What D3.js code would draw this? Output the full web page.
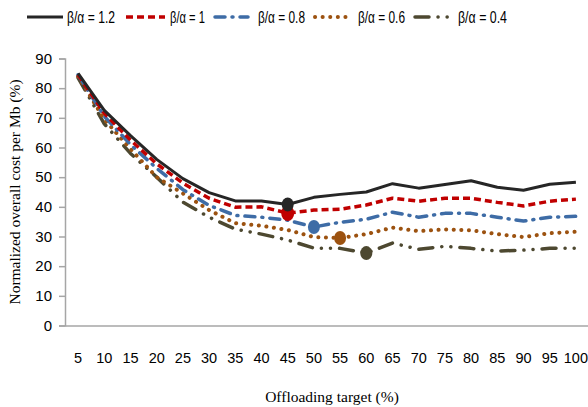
<!DOCTYPE html>
<html>
<head>
<meta charset="utf-8">
<script src="https://cdn.jsdelivr.net/npm/d3@7"></script>
<style>
  body { margin: 0; background: white; }
  text { font-family: "Liberation Sans Narrow", "Liberation Sans", sans-serif; }
  .serif { font-family: "Liberation Serif", "DejaVu Serif", serif; }
</style>
</head>
<body>
<div id="container"></div>
<script>
let w = 588;
let h = 407;

// data
let targets = [5,10,15,20,25,30,35,40,45,50,55,60,65,70,75,80,85,90,95,100];
let yTicks = [0,10,20,30,40,50,60,70,80,90];
let ratio12 = [85,72.5,64,56,49.5,44.8,42,42,40.8,43.2,44.2,45,47.8,46.3,47.5,48.8,46.6,45.6,47.6,48.3];
let ratio10 = [84.5,71.5,62.5,54.5,48,42.9,39.9,40,37.9,38.9,39.2,40.6,42.9,41.9,42.9,42.9,41.5,40.3,41.9,42.6];
let ratio08 = [84.5,70.5,61,53,45.8,40.5,37.1,36.5,35.5,33.2,34.8,35.8,38.2,36.5,37.8,37.8,36.5,35.2,36.5,36.8];
let ratio06 = [84,69.5,59.5,50,44.5,38.9,34.5,33.6,32.2,29.8,29.5,30.8,33,31.8,32.4,32.1,30.8,29.8,31.1,31.6];
let ratio04 = [83.5,68,58,50,41.6,36.5,32.5,30.8,28.8,26.1,26,24.4,27.8,25.7,26.7,26,25.1,25.4,26,26];
let seriesNames = ["β/α = 1.2","β/α = 1","β/α = 0.8","β/α = 0.6","β/α = 0.4"];
// optimum target of each series (marked with a dot)
let optimum = [45,45,50,55,60];

let styles = [
  {color:"#262626", width:3, dash:null, cap:"butt"},
  {color:"#c00000", width:3.5, dash:"7,4", cap:"butt"},
  {color:"#3e6ca6", width:3.5, dash:"10,7,1,7", cap:"round"},
  {color:"#9c5210", width:4, dash:"0.1,7.5", cap:"round"},
  {color:"#4d4830", width:3.5, dash:"14,9,0.1,9,0.1,9", cap:"round"}
];

let allSeries = [ratio12, ratio10, ratio08, ratio06, ratio04];

let viz = d3.select("#container").append("svg")
    .attr("width", w)
    .attr("height", h)
    .style("background-color", "white");

let xScale = d3.scaleBand().domain(targets).range([65, 589]);
let yScale = d3.scaleLinear().domain([0, 90]).range([325.5, 58.5]);

// y axis
let yAxis = d3.axisLeft(yScale).tickValues(yTicks).tickSize(6).tickPadding(7);
let yAxisGroup = viz.append("g")
    .attr("transform", "translate(65,0)")
    .call(yAxis);
yAxisGroup.selectAll("path").attr("stroke", "#a6a6a6").attr("stroke-width", 1.5);
yAxisGroup.selectAll("line").attr("stroke", "#a6a6a6").attr("stroke-width", 1.5);
yAxisGroup.selectAll("text").attr("font-size", 15).attr("fill", "#000")
    .style("font-family", "'Liberation Sans Narrow', 'Liberation Sans', sans-serif");

// x axis
let xAxis = d3.axisBottom(xScale).tickSize(0).tickPadding(27);
let xAxisGroup = viz.append("g")
    .attr("transform", "translate(0,325.5)")
    .call(xAxis);
xAxisGroup.selectAll("path").attr("stroke", "#a6a6a6").attr("stroke-width", 1.5);
xAxisGroup.selectAll("text").attr("font-size", 14.5).attr("fill", "#000")
    .style("font-family", "'Liberation Sans Narrow', 'Liberation Sans', sans-serif");

// axis titles
viz.append("text")
  .attr("class", "serif")
  .attr("transform", "translate(20,192) rotate(-90)")
  .attr("text-anchor", "middle")
  .attr("font-size", 15.5)
  .text("Normalized  overall cost per Mb (%)");

viz.append("text")
  .attr("class", "serif")
  .attr("x", 332)
  .attr("y", 402)
  .attr("text-anchor", "middle")
  .attr("font-size", 15.5)
  .text("Offloading target (%)");

// lines
let line = d3.line()
  .x((d, i) => xScale(targets[i]) + xScale.bandwidth()/2)
  .y(d => yScale(d));

let graphGroup = viz.append("g");

// draw from bottom series up so the solid line sits on top
for (let s = allSeries.length - 1; s >= 0; s--) {
  graphGroup.append("path")
    .datum(allSeries[s])
    .attr("fill", "none")
    .attr("stroke", styles[s].color)
    .attr("stroke-width", styles[s].width)
    .attr("stroke-dasharray", styles[s].dash)
    .attr("stroke-linecap", styles[s].cap)
    .attr("stroke-linejoin", "round")
    .attr("d", line);
}

// optimum markers
for (let s = allSeries.length - 1; s >= 0; s--) {
  let idx = targets.indexOf(optimum[s]);
  graphGroup.append("ellipse")
    .attr("cx", xScale(optimum[s]) + xScale.bandwidth()/2)
    .attr("cy", yScale(allSeries[s][idx]))
    .attr("rx", s == 1 ? 6.5 : 6)
    .attr("ry", s == 1 ? 8 : 7)
    .attr("fill", styles[s].color);
}

// legend
let legendLine = [[27,63],[126,165],[215,248],[315,350],[415,450]];
let legendText = [67,170,258,358,458];
let legendWidth = [48,35,47,47,49];
let legend = viz.append("g").attr("transform", "translate(0,17)");
seriesNames.forEach(function(name, i){
  legend.append("line")
    .attr("x1", legendLine[i][0]).attr("x2", legendLine[i][1])
    .attr("y1", 0).attr("y2", 0)
    .attr("stroke", styles[i].color)
    .attr("stroke-width", styles[i].width)
    .attr("stroke-dasharray", styles[i].dash)
    .attr("stroke-linecap", styles[i].cap);
  legend.append("text")
    .attr("x", legendText[i])
    .attr("y", 6)
    .attr("font-size", 17)
    .attr("textLength", legendWidth[i])
    .attr("lengthAdjust", "spacingAndGlyphs")
    .text(name);
});
</script>
</body>
</html>
